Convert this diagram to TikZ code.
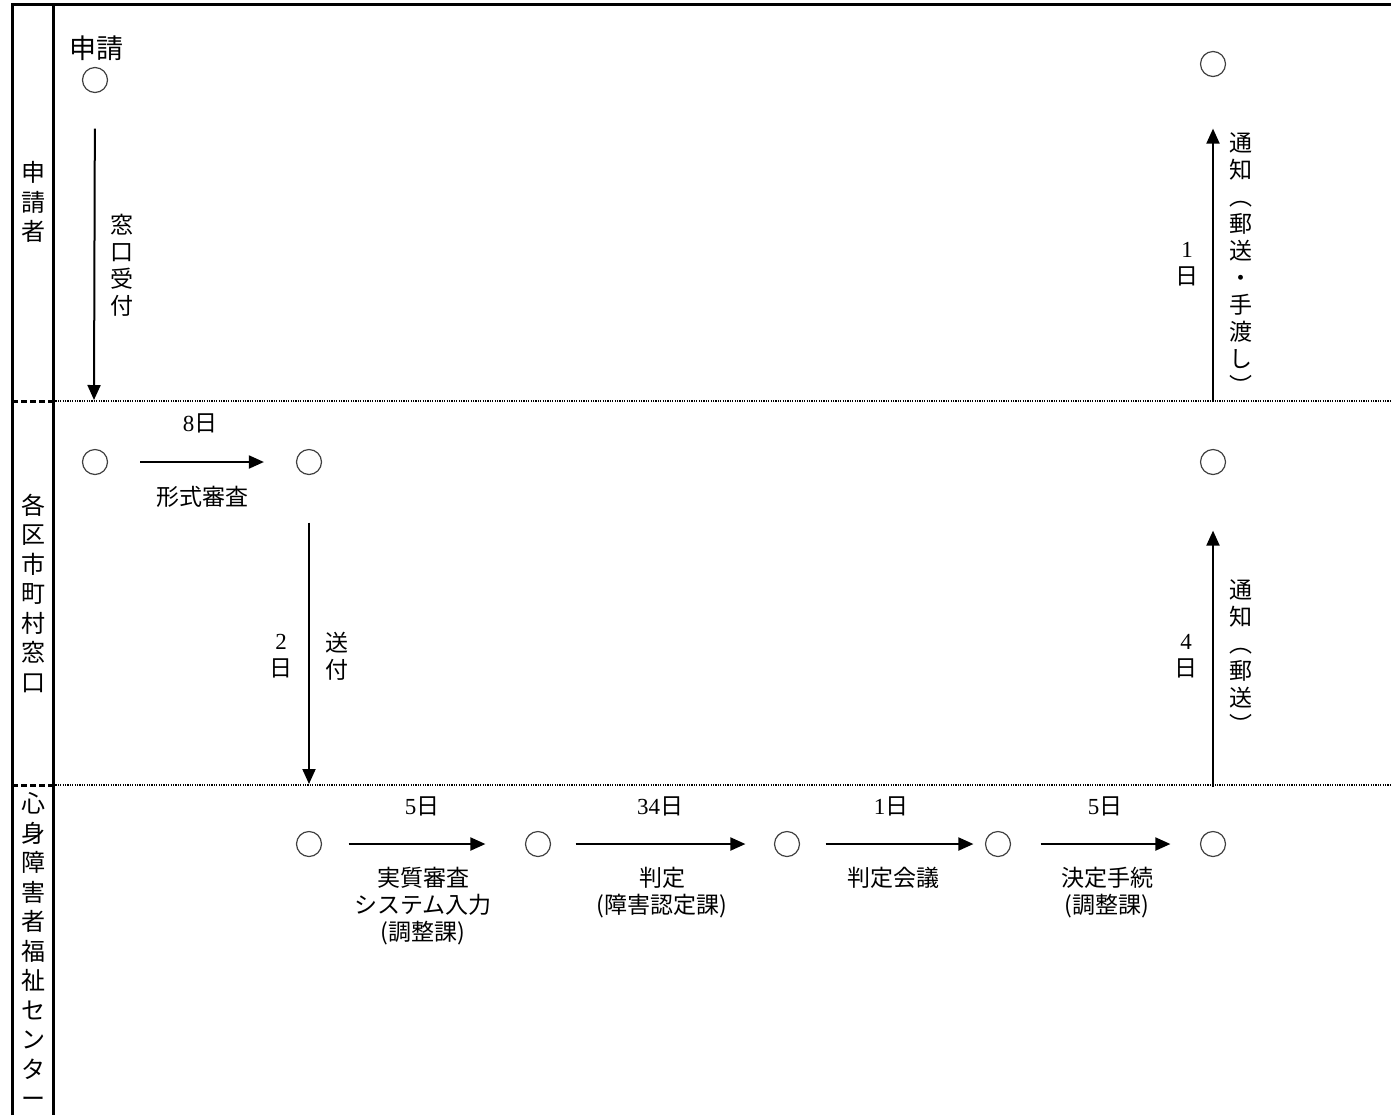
\documentclass[tikz,border=0pt]{standalone}
\usepackage{fontspec}
\setmainfont{Noto Sans CJK JP}
\newfontfamily\numfont{Liberation Serif}
\usetikzlibrary{arrows.meta}
\newcommand\nd[1]{{\numfont #1}日}

\begin{document}
\begin{tikzpicture}[x=0.5pt, y=-0.5pt,
  frame/.style={line width=1.5pt},
  lanesep/.style={line width=0.8pt, dash pattern=on 0.6pt off 0.6pt},
  laneend/.style={line width=1.5pt, dash pattern=on 3pt off 1.5pt},
  pt/.style={circle, draw=black!75, line width=0.6pt, minimum size=12.5pt, inner sep=0pt},
  arr/.style={-{Triangle[length=7.5pt,width=6.5pt]}, line width=1pt},
  lbl/.style={font=\fontsize{11.5}{13.5}\selectfont, align=center, inner sep=0pt},
  tate/.style={font=\fontsize{11.5}{13.5}\selectfont, align=center, inner sep=0pt},
  lane/.style={font=\fontsize{12}{14.75}\selectfont, align=center, inner sep=0pt}]
			\useasboundingbox (0,0) rectangle (1391,1115);
			% frame and lanes
			\draw[frame] (12,1115) -- (12,4) -- (1391,4);
			\draw[frame] (53,4) -- (53,1115);
			\foreach \y in {401,785} {
				\draw[laneend] (12,\y) -- (53,\y);
				\draw[lanesep] (53,\y) -- (1391,\y);
			}
			\node[lane] (l1) at (33,202) {申\\請\\者};
			\node[lane] (l2) at (33,593) {各\\区\\市\\町\\村\\窓\\口};
			\node[lane] (l3) at (33,950) {心\\身\\障\\害\\者\\福\\祉\\セ\\ン\\タ\\ー};
			
			% points
			\node[lbl, font=\fontsize{13.5}{16}\selectfont] (t0) at (96,48) {申請};
			\node[pt] (a1) at (95,80) {};
			\node[pt] (a2) at (1213,64) {};
			\node[pt] (b1) at (95,462) {};
			\node[pt] (b2) at (309,462) {};
			\node[pt] (b3) at (1213,462) {};
			\node[pt] (c1) at (309,844) {};
			\node[pt] (c2) at (538,844) {};
			\node[pt] (c3) at (787,844) {};
			\node[pt] (c4) at (998,844) {};
			\node[pt] (c5) at (1213,844) {};
			\coordinate (s1) at (94,400);
			\coordinate (s2) at (309,784);
			\coordinate (s3) at (1213,787);
			\coordinate (s4) at (1213,402);
			
			% arrows
			\draw[arr, shorten <=17.75pt] (a1) -- (s1);
			\draw[arr, shorten <=16pt, shorten >=16pt] (b1) -- (b2);
			\draw[arr, shorten <=23.75pt] (b2) -- (s2);
			\draw[arr, shorten >=27.75pt] (s3) -- (b3);
			\draw[arr, shorten >=25.75pt] (s4) -- (a2);
			\draw[arr, shorten <=13.25pt, shorten >=19.75pt] (c1) -- (c2);
			\draw[arr, shorten <=12.25pt, shorten >=14.25pt] (c2) -- (c3);
			\draw[arr, shorten <=12.75pt, shorten >=5.75pt] (c3) -- (c4);
			\draw[arr, shorten <=14.75pt, shorten >=14.75pt] (c4) -- (c5);
			
			% labels
			\node[tate] (w1) at (122,265) {窓\\口\\受\\付};
			\node[tate] (d1) at (1187,264) {{\numfont 1}\\日};
			\node[tate] (n1) at (1241,264) {通\\知\\︵\\郵\\送\\・\\手\\渡\\し\\︶};
			\node[lbl] (d2) at (200,423) {\nd{8}};
			\node[lbl] (k1) at (202,497) {形式審査};
			\node[tate] (d3) at (281,656) {{\numfont 2}\\日};
			\node[tate] (k2) at (337,656) {送\\付};
			\node[tate] (d4) at (1186,656) {{\numfont 4}\\日};
			\node[tate] (n2) at (1241,657) {通\\知\\︵\\郵\\送\\︶};
			\node[lbl] (d5) at (422,806) {\nd{5}};
			\node[lbl] (d6) at (660,806) {\nd{34}};
			\node[lbl] (d7) at (891,806) {\nd{1}};
			\node[lbl] (d8) at (1105,806) {\nd{5}};
			\node[lbl, anchor=north] (k3) at (423,867) {実質審査\\システム入力\\(調整課)};
			\node[lbl, anchor=north] (k4) at (662,867) {判定\\(障害認定課)};
			\node[lbl, anchor=north] (k5) at (893,867) {判定会議};
			\node[lbl, anchor=north] (k6) at (1107,867) {決定手続\\(調整課)};
		\end{tikzpicture}
\end{document}
